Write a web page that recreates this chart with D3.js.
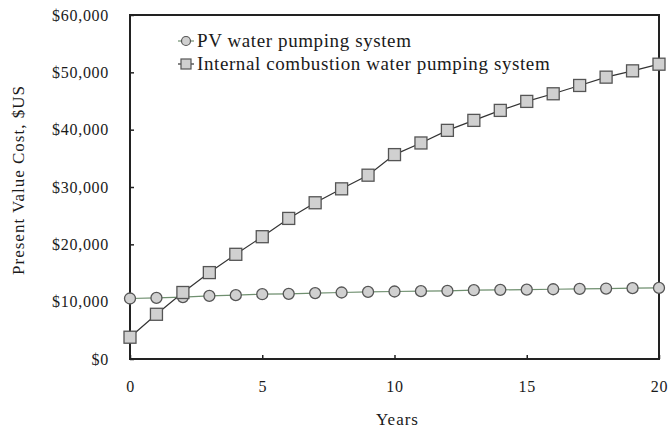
<!DOCTYPE html>
<html>
<head>
<meta charset="utf-8">
<script src="https://cdn.jsdelivr.net/npm/d3@7"></script>
<style>
  body { margin: 0; background: #fff; }
  text { font-family: "Liberation Serif", "DejaVu Serif", serif; fill: #1a1a1a; }
  .axis path, .axis line { stroke: #222; }
</style>
</head>
<body>
<div id="chart"></div>
<script>
// data
const years = d3.range(0, 21);
const pvCost = [10550, 10650, 10800, 11000, 11130, 11300, 11360, 11500, 11600, 11700, 11770,
  11830, 11880, 12000, 12060, 12100, 12170, 12230, 12290, 12350, 12400];
const iceCost = [3800, 7800, 11600, 15070, 18260, 21330, 24520, 27250, 29680, 32060, 35650,
  37680, 39880, 41620, 43360, 44930, 46260, 47710, 49160, 50260, 51420];
const seriesNames = ["PV water pumping system", "Internal combustion water pumping system"];
const xTicks = [0, 5, 10, 15, 20];
const yTicks = [0, 10000, 20000, 30000, 40000, 50000, 60000];

const W = 669, H = 430;
const margin = { top: 15, right: 10, bottom: 71, left: 130 };
const width = W - margin.left - margin.right;
const height = H - margin.top - margin.bottom;

const svg = d3.select("#chart").append("svg")
  .attr("width", W).attr("height", H);

const chart = svg.append("g")
  .attr("transform", `translate(${margin.left},${margin.top})`);

const x = d3.scaleLinear().domain([0, 20]).range([0, width]);
const y = d3.scaleLinear().domain([0, 60000]).range([height, 0]);

// frame
chart.append("rect")
  .attr("width", width).attr("height", height)
  .attr("fill", "none").attr("stroke", "#222").attr("stroke-width", 2);

// axes with inward ticks
const fmt = d => "$" + d3.format(",")(d);
const xAxisG = chart.append("g").attr("class", "axis")
  .attr("transform", `translate(0,${height})`)
  .call(d3.axisBottom(x).tickValues(xTicks).tickSize(-4).tickPadding(22));
const yAxisG = chart.append("g").attr("class", "axis")
  .call(d3.axisLeft(y).tickValues(yTicks).tickFormat(fmt).tickSize(-4).tickPadding(21));
[xAxisG, yAxisG].forEach(g => {
  g.select(".domain").remove();
  g.selectAll("line").attr("stroke-width", 1.5);
  g.selectAll("text").attr("font-size", 16).attr("fill", "#1a1a1a")
    .attr("letter-spacing", 0.7)
    .style("font-family", '"Liberation Serif", serif');
});

// axis titles
chart.append("text")
  .attr("x", width / 2 + 3).attr("y", height + 66)
  .attr("text-anchor", "middle").attr("font-size", 17).attr("letter-spacing", 1)
  .text("Years");
chart.append("text")
  .attr("transform", "rotate(-90)")
  .attr("x", -height / 2 + 7).attr("y", -margin.left + 24)
  .attr("text-anchor", "middle").attr("font-size", 17).attr("letter-spacing", 1)
  .text("Present Value Cost, $US");

const line = vals => d3.line()
  .x((d, i) => x(years[i]))
  .y(d => y(d))(vals);

// PV series
chart.append("path").attr("d", line(pvCost))
  .attr("fill", "none").attr("stroke", "#6f8f6f").attr("stroke-width", 1.2);
// ICE series
chart.append("path").attr("d", line(iceCost))
  .attr("fill", "none").attr("stroke", "#333").attr("stroke-width", 1.2);

const mFill = "#d0d0d0", mStroke = "#555";
chart.selectAll(".pv").data(pvCost).enter().append("circle")
  .attr("class", "pv")
  .attr("cx", (d, i) => x(years[i])).attr("cy", d => y(d))
  .attr("r", 5.5).attr("fill", mFill).attr("stroke", mStroke).attr("stroke-width", 1.3);
chart.selectAll(".ice").data(iceCost).enter().append("rect")
  .attr("class", "ice")
  .attr("x", (d, i) => x(years[i]) - 6).attr("y", d => y(d) - 6)
  .attr("width", 12).attr("height", 12)
  .attr("fill", mFill).attr("stroke", mStroke).attr("stroke-width", 1.3);

// legend
const legend = chart.append("g").attr("transform", "translate(48,26)");
seriesNames.forEach((name, i) => {
  const g = legend.append("g").attr("transform", `translate(0,${i * 23})`);
  g.append("line").attr("x1", 0).attr("x2", 16)
    .attr("stroke", i === 0 ? "#6f8f6f" : "#333").attr("stroke-width", 1.2);
  if (i === 0) {
    g.append("circle").attr("cx", 8).attr("r", 4.5)
      .attr("fill", mFill).attr("stroke", mStroke).attr("stroke-width", 1.2);
  } else {
    g.append("rect").attr("x", 3).attr("y", -5).attr("width", 10).attr("height", 10)
      .attr("fill", mFill).attr("stroke", mStroke).attr("stroke-width", 1.2);
  }
  g.append("text").attr("x", 19).attr("y", 5.5).attr("font-size", 19)
    .attr("letter-spacing", 0.6).text(name);
});
</script>
</body>
</html>
